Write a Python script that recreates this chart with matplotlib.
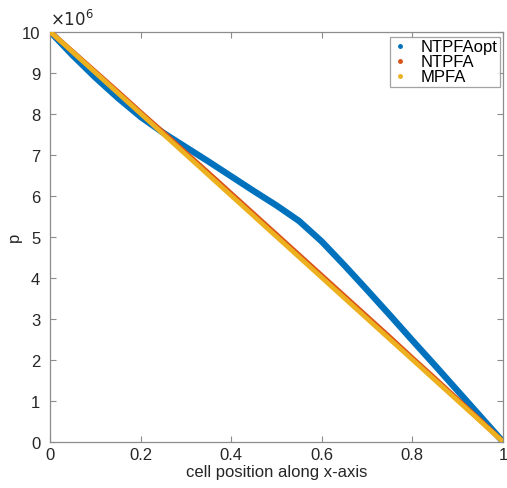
import matplotlib
matplotlib.use("Agg")
import matplotlib.pyplot as plt
from matplotlib.lines import Line2D

# Data (p in units of 1e6)
x_pos = [0.0, 0.05, 0.1, 0.15, 0.2, 0.25, 0.3, 0.35, 0.4, 0.45, 0.5,
         0.55, 0.6, 0.65, 0.7, 0.75, 0.8, 0.85, 0.9, 0.95, 1.0]
p_ntpfaopt = [10.0, 9.42, 8.88, 8.38, 7.92, 7.53, 7.18, 6.83, 6.47, 6.11, 5.76,
              5.38, 4.88, 4.30, 3.70, 3.09, 2.47, 1.86, 1.24, 0.62, 0.0]
p_ntpfa = [10.0, 9.51, 9.02, 8.53, 8.03, 7.54, 7.04, 6.55, 6.05, 5.55, 5.05,
           4.55, 4.05, 3.55, 3.05, 2.55, 2.04, 1.54, 1.03, 0.52, 0.0]
p_mpfa = [10.0, 9.50, 9.00, 8.50, 8.00, 7.50, 7.00, 6.50, 6.00, 5.50, 5.00,
          4.50, 4.00, 3.50, 3.00, 2.50, 2.00, 1.50, 1.00, 0.50, 0.0]
series_names = ["NTPFAopt", "NTPFA", "MPFA"]
x_ticks = [0, 0.2, 0.4, 0.6, 0.8, 1]
x_ticklabels = ["0", "0.2", "0.4", "0.6", "0.8", "1"]
y_ticks = [0, 1, 2, 3, 4, 5, 6, 7, 8, 9, 10]

colors = ["#0072BD", "#D95319", "#EDB120"]

plt.rcParams['font.family'] = ['Liberation Sans', 'DejaVu Sans']
fig = plt.figure(figsize=(5.07, 4.89), dpi=100)
ax = fig.add_axes([0.0986, 0.0947, 0.8934, 0.8388])

ax.plot(x_pos, p_ntpfaopt, color=colors[0], lw=4.6, solid_capstyle='butt',
        solid_joinstyle='round', zorder=2)
ax.plot(x_pos, p_ntpfa, color=colors[1], lw=3.6, solid_capstyle='butt', zorder=3)
ax.plot(x_pos, p_mpfa, color=colors[2], lw=3.4, solid_capstyle='butt', zorder=4)

ax.set_xlim(0, 1)
ax.set_ylim(0, 10)
ax.set_xticks(x_ticks)
ax.set_xticklabels(x_ticklabels)
ax.set_yticks(y_ticks)
spine_col = "#8c8c8c"
for s in ax.spines.values():
    s.set_color(spine_col)
    s.set_linewidth(0.9)
ax.tick_params(direction='in', length=4, width=0.8, color=spine_col,
               labelsize=12, labelcolor='#262626', top=True, right=True)
ax.tick_params(axis='y', pad=7)
ax.tick_params(axis='x', pad=4)

ax.set_xlabel("cell position along x-axis", fontsize=12, color='#262626', labelpad=1)
ax.set_ylabel("p", fontsize=12, color='#262626')
ax.yaxis.set_label_coords(-0.062, 0.5)
ax.text(0.0, 1.008, r"$\times10^{6}$", transform=ax.transAxes, fontsize=12,
        color='#262626', ha='left', va='bottom')

handles = [Line2D([], [], marker='o', ls='none', color=c, markersize=2.5) for c in colors]
leg = ax.legend(handles, series_names, loc='upper right', bbox_to_anchor=(0.993, 0.987),
                fontsize=12, frameon=True, fancybox=False, handlelength=1.0,
                handletextpad=0.7, borderpad=0.15, labelspacing=0.0, borderaxespad=0)
leg.get_frame().set_edgecolor(spine_col)
leg.get_frame().set_linewidth(0.9)

fig.savefig("out.png", dpi=100)
